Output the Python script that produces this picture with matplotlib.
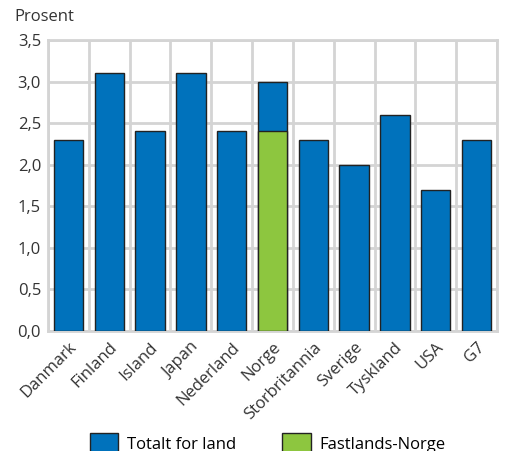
import numpy as np
import matplotlib.pyplot as plt
from matplotlib.patches import Patch

plt.rcParams['font.family'] = ['Open Sans', 'DejaVu Sans']

land = ["Danmark", "Finland", "Island", "Japan", "Nederland", "Norge",
        "Storbritannia", "Sverige", "Tyskland", "USA", "G7"]
totalt = [2.3, 3.1, 2.4, 3.1, 2.4, 3.0, 2.3, 2.0, 2.6, 1.7, 2.3]
fastland = [None, None, None, None, None, 2.4, None, None, None, None, None]
yticks = [0.0, 0.5, 1.0, 1.5, 2.0, 2.5, 3.0, 3.5]

blue = "#0072bc"
green = "#8dc63f"
grid = "#d4d4d4"
txt = "#333333"

fig = plt.figure(figsize=(5.05, 4.51), dpi=100)
ax = fig.add_axes([48 / 505, 1 - 331 / 451, 449 / 505, 291 / 451])

x = np.arange(len(land))
ax.bar(x, totalt, width=0.72, color=blue, edgecolor="#222222", linewidth=1.0, zorder=3)
for i, v in enumerate(fastland):
    if v is not None:
        ax.bar(x[i], v, width=0.72, color=green, edgecolor="#222222", linewidth=1.0, zorder=4)

ax.set_xlim(-0.5, len(land) - 0.5)
ax.set_ylim(0, 3.5)
ax.set_yticks(yticks)
ax.set_yticklabels([f"{t:.1f}".replace(".", ",") for t in yticks], fontsize=12, color=txt)
ax.set_xticks(x)
ax.set_xticklabels(land, rotation=45, ha="right", rotation_mode="anchor", fontsize=12, color=txt)
ax.set_xticks(np.arange(-0.5, len(land)), minor=True)
ax.tick_params(axis="x", which="major", length=0, pad=6)
ax.tick_params(axis="x", which="minor", length=0)
ax.tick_params(axis="y", length=0, pad=5)
ax.grid(True, axis="y", which="major", color=grid, linewidth=2, zorder=0)
ax.grid(True, axis="x", which="minor", color=grid, linewidth=2, zorder=0)
for s in ax.spines.values():
    s.set_color(grid)
    s.set_linewidth(2)

fig.text(14 / 505, 1 - 17 / 451, "Prosent", fontsize=12, color=txt, va="center")

handles = [Patch(facecolor=blue, edgecolor="#222222", label="Totalt for land"),
           Patch(facecolor=green, edgecolor="#222222", label="Fastlands-Norge")]
fig.legend(handles=handles, loc="center", bbox_to_anchor=(0.53, 1 - 443 / 451), ncol=2,
           frameon=False, fontsize=12, handlelength=1.7, handleheight=1.4,
           columnspacing=2.8, handletextpad=0.5)

fig.savefig("out.png", dpi=100)
